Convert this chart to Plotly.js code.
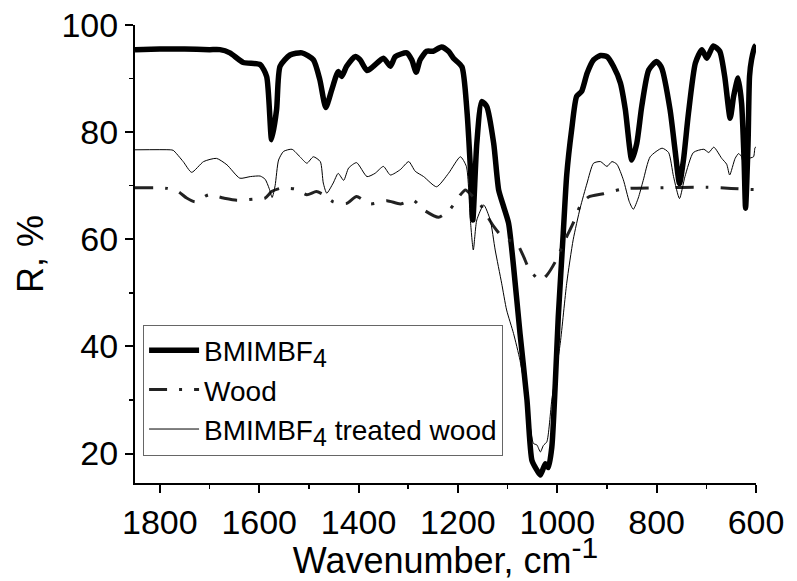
<!DOCTYPE html>
<html>
<head>
<meta charset="utf-8">
<script src="https://cdn.plot.ly/plotly-3.0.1.min.js"></script>
<style>html,body{margin:0;padding:0;background:#fff}#chart{width:797px;height:581px}</style>
</head>
<body>
<div id="chart"></div>
<script>
// BMIMBF4 (thick)
const wnIL = [1850,1800,1750,1700,1679,1659,1632,1598,1585,1575,1565,1558,1538,1514,1491,1478,1466,1454,1441,1434,1424,1407,1397,1383,1370,1350,1336,1326,1303,1293,1284,1276,1263,1250,1233,1219,1209,1192,1182,1174,1170,1162,1152,1142,1128,1118,1108,1098,1088,1075,1061,1051,1041,1034,1024,1018,1011,1004,998,988,981,971,961,951,940,927,913,900,887,873,863,850,840,830,816,800,790,773,763,754,746,736,722,709,699,686,673,663,652,645,636,629,624,621,616,613,609,602,600];
const rIL = [95.4,95.5,95.5,95.4,95.4,94.8,93.0,92.6,90.4,78.6,84.2,92.3,94.4,94.8,93.5,89.8,84.6,87.9,91.3,90.4,92.3,94.1,93.5,91.5,92.3,93.8,92.3,94.1,94.8,93.5,91.2,93.5,95.1,95.1,95.9,95.1,93.8,92.2,84.2,71.7,63.6,77.9,85.7,84.8,77.9,69.2,66.1,63.0,54.9,42.4,30.0,18.7,16.9,16.0,18.1,17.4,21.2,33.1,45.5,61.1,72.0,80.5,86.7,87.6,91.0,93.5,94.3,94.1,92.3,89.2,84.2,74.8,77.9,84.8,91.6,93.2,92.0,84.2,76.7,70.4,74.8,83.5,92.9,95.4,93.8,96.1,95.1,90.4,82.6,86.7,90.1,85.4,74.8,65.8,77.9,90.4,93.5,96.0,96.2];

// Wood (dash-dot)
const wnWood = [1850,1800,1786,1763,1746,1729,1702,1672,1645,1612,1588,1575,1558,1528,1504,1485,1470,1451,1424,1404,1377,1343,1316,1290,1269,1239,1216,1195,1185,1170,1155,1142,1128,1108,1082,1068,1056,1034,1021,1004,981,968,954,937,907,873,853,800,700,650,602,600];
const rWood = [69.6,69.6,69.5,68.9,67.7,67.0,68.3,67.7,67.3,67.5,67.7,68.9,69.5,69.4,68.3,68.9,68.3,67.0,66.7,68.0,66.6,67.2,66.6,67.3,65.5,64.1,65.6,68.3,69.2,68.0,66.5,64.5,62.4,60.2,59.3,56.8,54.3,52.3,53.3,55.8,60.5,63.0,66.2,67.9,68.5,69.3,69.5,69.6,69.7,69.5,69.3,69.4];

// BMIMBF4 treated wood (thin)
const wnTW = [1850,1779,1773,1753,1736,1712,1686,1665,1639,1618,1598,1588,1580,1574,1568,1561,1551,1534,1518,1504,1491,1477,1471,1464,1451,1441,1430,1420,1404,1383,1367,1350,1336,1316,1299,1286,1269,1243,1219,1195,1183,1175,1169,1162,1148,1135,1125,1112,1102,1088,1075,1061,1048,1041,1034,1028,1021,1011,994,981,968,954,940,927,913,900,890,880,867,855,847,837,827,813,789,776,766,754,743,726,705,695,685,669,659,653,642,635,629,624,620,616,605,602,600];
const rTW = [76.7,76.7,76.6,74.5,72.5,74.5,75.1,73.9,71.4,71.7,71.8,71.2,69.5,67.8,70.0,74.8,76.4,76.8,75.4,74.2,75.4,74.5,70.5,68.6,70.5,72.3,71.0,73.3,74.3,71.7,72.3,73.6,72.0,73.0,74.5,72.7,71.7,69.8,72.3,75.4,73.6,63.6,58.0,63.6,66.4,63.6,58.0,51.8,46.8,42.4,37.4,30.0,21.9,21.6,20.3,21.5,22.2,30.0,40.6,51.8,59.9,65.8,70.5,74.2,74.5,73.6,74.5,74.0,71.1,67.0,65.6,67.7,71.0,75.4,77.0,76.2,71.7,67.6,71.7,76.2,76.8,76.2,77.2,75.1,74.0,72.0,75.1,76.0,75.4,73.0,72.0,75.0,75.4,77.1,77.2];

const sub4 = '<sub><span style="font-size:25px">4</span></sub>';
const names = ['BMIMBF' + sub4, 'Wood', 'BMIMBF' + sub4 + ' treated wood'];
const xTicks = [1800,1600,1400,1200,1000,800,600];
const yTicks = [20,40,60,80,100];

const font = 'Liberation Sans, Arial, sans-serif';
const traces = [
  {x: wnIL, y: rIL, name: names[0], type: 'scatter', mode: 'lines',
   line: {color: '#000', width: 5.5, shape: 'spline', smoothing: 0.6}},
  {x: wnWood, y: rWood, name: names[1], type: 'scatter', mode: 'lines',
   line: {color: '#222', width: 3, dash: '18px,12px,3px,12px', shape: 'spline', smoothing: 0.6}},
  {x: wnTW, y: rTW, name: names[2], type: 'scatter', mode: 'lines',
   line: {color: '#000', width: 1, shape: 'spline', smoothing: 0.6}}
];

const layout = {
  width: 797, height: 581,
  margin: {l: 135, r: 41, t: 25, b: 98},
  paper_bgcolor: '#fff', plot_bgcolor: '#fff',
  font: {family: font, color: '#000'},
  showlegend: true,
  legend: {x: 0.013, y: 0.06, xanchor: 'left', yanchor: 'bottom',
           bgcolor: '#fff', bordercolor: '#666', borderwidth: 1,
           font: {family: font, size: 28, color: '#000'},
           itemwidth: 50, tracegroupgap: 0},
  xaxis: {
    range: [1850, 600], tickvals: xTicks, ticktext: xTicks.map(String),
    showgrid: false, zeroline: false, showline: true, linecolor: '#000', linewidth: 2,
    ticks: 'outside', ticklen: 8, tickwidth: 2, tickcolor: '#000',
    tickfont: {family: font, size: 34, color: '#000'},
    minor: {dtick: 100, tick0: 0, ticks: 'outside', ticklen: 4, tickwidth: 1.5, tickcolor: '#000', showgrid: false},
    title: {text: 'Wavenumber, cm<sup><span style="font-size:30px">-1</span></sup>', font: {family: font, size: 36, color: '#000'}, standoff: 11}
  },
  yaxis: {
    range: [14.5, 100], tickvals: yTicks, ticktext: yTicks.map(String),
    showgrid: false, zeroline: false, showline: true, linecolor: '#000', linewidth: 2,
    ticks: 'outside', ticklen: 8, tickwidth: 2, tickcolor: '#000',
    tickfont: {family: font, size: 34, color: '#000'},
    minor: {dtick: 10, tick0: 0, ticks: 'outside', ticklen: 4, tickwidth: 1.5, tickcolor: '#000', showgrid: false},
    title: {text: 'R, %', font: {family: font, size: 36, color: '#000'}, standoff: 7}
  }
};

Plotly.newPlot('chart', traces, layout, {displayModeBar: false, staticPlot: true});
</script>
</body>
</html>
